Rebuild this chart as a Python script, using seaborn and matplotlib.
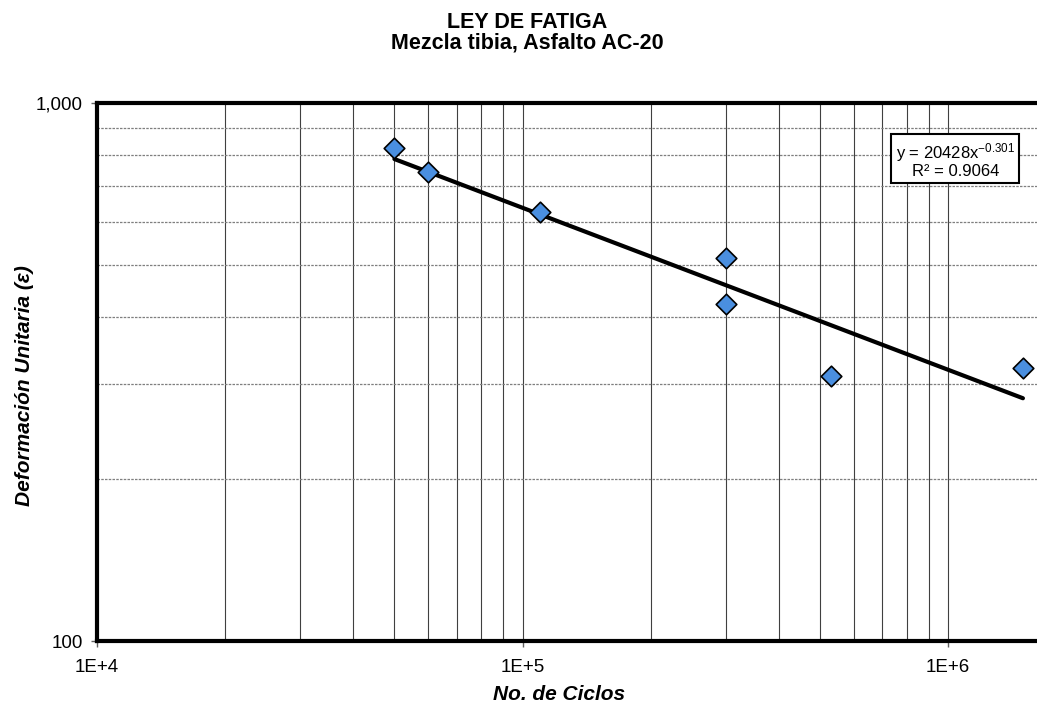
import numpy as np
import pandas as pd
import matplotlib
matplotlib.use("Agg")
import matplotlib.pyplot as plt
import matplotlib.ticker as mticker
import seaborn as sns

# Ensayo de fatiga: ciclos hasta la falla y deformación unitaria
ciclos = [50000, 60000, 110000, 300000, 300000, 530000, 1500000]
deformacion = [825, 745, 627, 515, 423, 311, 322]

# Ajuste potencial y = a * x^b
coef_a = 20428
coef_b = -0.301
r2 = 0.9064

x_ticks = [1e4, 1e5, 1e6]
x_tick_labels = ["1E+4", "1E+5", "1E+6"]
y_ticks = [100, 1000]
y_tick_labels = ["100", "1,000"]

sns.set_style("white")
plt.rcParams["font.family"] = ["Liberation Sans", "DejaVu Sans"]
plt.rcParams["text.color"] = "black"
plt.rcParams["axes.labelcolor"] = "black"
plt.rcParams["xtick.color"] = "black"
plt.rcParams["ytick.color"] = "black"
plt.rcParams["mathtext.fontset"] = "custom"
plt.rcParams["mathtext.rm"] = "Liberation Sans"
plt.rcParams["mathtext.it"] = "Liberation Sans:italic"

W, H = 1037, 704
fig = plt.figure(figsize=(W / 100, H / 100), dpi=100)
ax = fig.add_axes([97 / W, (H - 641) / H, (W - 97) / W, 538 / H])

df = pd.DataFrame({"ciclos": ciclos, "deformacion": deformacion})

x_fit = np.geomspace(min(ciclos), max(ciclos), 100)
fit = pd.DataFrame({"x": x_fit, "y": coef_a * x_fit ** coef_b})

ax.set_xscale("log")
ax.set_yscale("log")
ax.set_xlim(1e4, 10 ** (4 + 940 / 425.5))
ax.set_ylim(100, 1000)

# Cuadrícula: verticales continuas, horizontales punteadas
ax.xaxis.set_minor_locator(mticker.LogLocator(base=10, subs=np.arange(2, 10)))
ax.yaxis.set_minor_locator(mticker.LogLocator(base=10, subs=np.arange(2, 10)))
ax.grid(which="both", axis="x", color="#404040", linewidth=0.8, linestyle="-")
ax.grid(which="minor", axis="y", color="#7f7f7f", linewidth=0.9, linestyle=(0, (2, 1)))
ax.set_axisbelow(True)

sns.lineplot(data=fit, x="x", y="y", color="black", linewidth=3, ax=ax, zorder=3)
sns.scatterplot(data=df, x="ciclos", y="deformacion", marker="D", s=110,
                color="#4a8fe0", edgecolor="black", linewidth=1.2, ax=ax, zorder=4)

ax.set_xticks(x_ticks)
ax.set_xticklabels(x_tick_labels)
ax.set_yticks(y_ticks)
ax.set_yticklabels(y_tick_labels)
ax.xaxis.set_minor_formatter(mticker.NullFormatter())
ax.yaxis.set_minor_formatter(mticker.NullFormatter())
ax.tick_params(which="major", length=4, width=1, color="#606060", labelsize=13.5,
               labelcolor="black", direction="out", bottom=True, left=True)
ax.tick_params(which="minor", length=0)
ax.tick_params(axis="x", pad=9)
ax.tick_params(axis="y", pad=6)

for side in ["left", "bottom", "top"]:
    ax.spines[side].set_linewidth(3)
    ax.spines[side].set_color("black")
ax.spines["right"].set_visible(False)

ax.set_xlabel("")
ax.set_ylabel("")

# Títulos y rótulos de ejes
fig.text(527 / W, 1 - 48 / H, "LEY DE FATIGA\nMezcla tibia, Asfalto AC-20",
         ha="center", va="baseline", multialignment="center",
         fontsize=15.5, fontweight="bold", linespacing=0.92)
fig.text(559 / W, 1 - 700 / H, "No. de Ciclos", ha="center", va="baseline",
         fontsize=15, fontweight="bold", style="italic")
fig.text(25 / W, 1 - 386 / H, "Deformación Unitaria (ε)", ha="center", va="center",
         rotation=90, fontsize=15, fontweight="bold", style="italic")

ax.text(0.913, 0.894,
        f"y = {coef_a}x$^{{{coef_b}}}$\nR² = {r2}",
        transform=ax.transAxes, ha="center", va="center", fontsize=12,
        linespacing=1.05, zorder=5,
        bbox=dict(boxstyle="square,pad=0.25", facecolor="white", edgecolor="black", linewidth=1.5))

fig.savefig("out.png", dpi=100)
